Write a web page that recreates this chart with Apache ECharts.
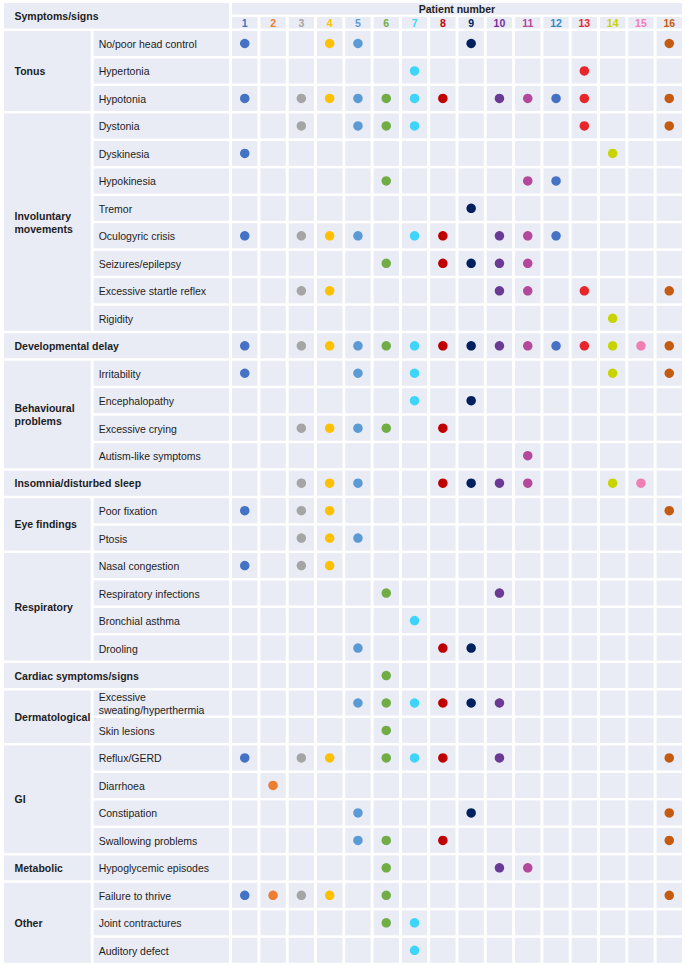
<!DOCTYPE html>
<html><head><meta charset="utf-8">
<script src="https://cdn.jsdelivr.net/npm/echarts@6/dist/echarts.min.js"></script>
<style>html,body{margin:0;padding:0;background:#fff}#c{width:685px;height:966px}</style>
</head><body><div id="c"></div>
<script>
// ---------- data ----------
const headerLeft = 'Symptoms/signs';
const headerTitle = 'Patient number';
const patients = ['1','2','3','4','5','6','7','8','9','10','11','12','13','14','15','16'];
const patientColors = ['#4472C4','#ED7D31','#A5A5A5','#FFC000','#5B9BD5','#70AD47','#3DD5FB','#C00000',
  '#002060','#6A3A94','#B4489A','#4472C4','#E8262A','#C8D400','#EF7EB3','#C55A11'];
const numberColors = ['#4472C4','#ED7D31','#A5A5A5','#FFC000','#5B9BD5','#70AD47','#3DD5FB','#C00000',
  '#002060','#7030A0','#B4489A','#2E8BC8','#E8262A','#C8D400','#EF7EB3','#C55A11'];
const groups = ['Tonus','Involuntary movements','Developmental delay','Behavioural problems',
  'Insomnia/disturbed sleep','Eye findings','Respiratory','Cardiac symptoms/signs','Dermatological',
  'GI','Metabolic','Other'];
const groupRowCounts = [3, 8, 1, 4, 1, 2, 4, 1, 2, 4, 1, 3];
const symptoms = ['No/poor head control','Hypertonia','Hypotonia','Dystonia','Dyskinesia','Hypokinesia',
  'Tremor','Oculogyric crisis','Seizures/epilepsy','Excessive startle reflex','Rigidity',
  'Developmental delay','Irritability','Encephalopathy','Excessive crying','Autism-like symptoms',
  'Insomnia/disturbed sleep','Poor fixation','Ptosis','Nasal congestion','Respiratory infections',
  'Bronchial asthma','Drooling','Cardiac symptoms/signs','Excessive sweating/hyperthermia','Skin lesions',
  'Reflux/GERD','Diarrhoea','Constipation','Swallowing problems','Hypoglycemic episodes',
  'Failure to thrive','Joint contractures','Auditory defect'];
// patients showing each symptom (same order as symptoms)
const patientsBySymptom = [
  [1,4,5,9,16],
  [7,13],
  [1,3,4,5,6,7,8,10,11,12,13,16],
  [3,5,6,7,13,16],
  [1,14],
  [6,11,12],
  [9],
  [1,3,4,5,7,8,10,11,12],
  [6,8,9,10,11],
  [3,4,10,11,13,16],
  [14],
  [1,3,4,5,6,7,8,9,10,11,12,13,14,15,16],
  [1,5,7,14,16],
  [7,9],
  [3,4,5,6,8],
  [11],
  [3,4,5,8,9,10,11,14,15],
  [1,3,4,16],
  [3,4,5],
  [1,3,4],
  [6,10],
  [7],
  [5,8,9],
  [6],
  [5,6,7,8,9,10],
  [6],
  [1,3,4,6,7,8,10,16],
  [2],
  [5,9,16],
  [5,6,8,16],
  [6,10,11],
  [1,2,3,4,6,16],
  [6,7],
  [7]
];

// ---------- styles ----------
const CELL = '#E9EBF5';
const FONT = '"Liberation Sans", Arial, sans-serif';
const TXT = '#1E1E1E';
const HG = 3;     // horizontal gap
const VG = 2.5;   // vertical gap
const GROUP_W = 88.2;
const FS = 10.5;

// simple label wrapping for very long symptom names: break after the first word
const wrapLong = s => s.length > 28 ? s.replace(' ', '\n') : s;

// ---------- build ----------
const cellData = [];
symptoms.forEach((s, r) => patients.forEach((p, i) => cellData.push([i, r])));
const dotData = [];
patientsBySymptom.forEach((list, r) => list.forEach(p => {
  dotData.push({ value: [p - 1, r], itemStyle: { color: patientColors[p - 1] } });
}));
const groupData = [];
let start = 0;
groups.forEach((g, gi) => {
  const n = groupRowCounts[gi];
  groupData.push([0, start, start + n - 1, gi]);
  start += n;
});
const isSpan = gi => groupRowCounts[gi] === 1 && symptoms[groupData[gi][1]] === groups[gi];
const symptomData = [];
groupData.forEach((gd, gi) => {
  if (!isSpan(gi)) for (let r = gd[1]; r <= gd[2]; r++) symptomData.push([0.5, r]);
});

const chart = echarts.init(document.getElementById('c'), null, { renderer: 'svg' });

const hidden = { show: false };
const catAxis = (data, gi, inverse) => ({
  type: 'category', data, gridIndex: gi, inverse: !!inverse,
  axisLine: hidden, axisTick: hidden, axisLabel: hidden, splitLine: hidden
});
const valAxis = gi => ({
  type: 'value', min: 0, max: 1, gridIndex: gi,
  axisLine: hidden, axisTick: hidden, axisLabel: hidden, splitLine: hidden
});

function textEl(text, x, y, opts) {
  return {
    type: 'text',
    style: Object.assign({
      text, x, y, fill: TXT, fontFamily: FONT, fontSize: FS,
      verticalAlign: 'middle', align: 'left', lineHeight: 13.5
    }, opts || {})
  };
}

const option = {
  animation: false,
  backgroundColor: '#fff',
  grid: [
    { left: 230.6, top: 29.75, width: 452.8, height: 934.3 },   // 0 patient cells
    { left: 2.5, top: 29.75, width: 228, height: 934.3 },       // 1 labels
    { left: 230.6, top: 1.75, width: 452.8, height: 28 },       // 2 patient header
    { left: 2.5, top: 1.75, width: 228, height: 28 }            // 3 left header
  ],
  xAxis: [
    catAxis(patients, 0),
    valAxis(1),
    catAxis(patients, 2),
    valAxis(3)
  ],
  yAxis: [
    catAxis(symptoms, 0, true),
    catAxis(symptoms, 1, true),
    catAxis([headerTitle, 'numbers'], 2, true),
    catAxis([headerLeft], 3, true)
  ],
  series: [
    {
      type: 'custom', xAxisIndex: 0, yAxisIndex: 0, z: 1, silent: true,
      data: cellData,
      renderItem(params, api) {
        const c = api.coord([api.value(0), api.value(1)]);
        const s = api.size([1, 1]);
        return { type: 'rect', shape: { x: c[0] - s[0] / 2 + HG / 2, y: c[1] - s[1] / 2 + VG / 2, width: s[0] - HG, height: s[1] - VG }, style: { fill: CELL } };
      }
    },
    {
      type: 'scatter', xAxisIndex: 0, yAxisIndex: 0, z: 3, silent: true,
      symbol: 'circle', symbolSize: 9.5,
      itemStyle: { opacity: 1 },
      data: dotData
    },
    {
      type: 'custom', xAxisIndex: 1, yAxisIndex: 1, z: 1, silent: true,
      data: groupData,
      encode: { x: 0, y: 1 },
      renderItem(params, api) {
        const first = api.value(1), last = api.value(2), gi = api.value(3);
        const ct = api.coord([0, first]);
        const cb = api.coord([0, last]);
        const x1 = api.coord([1, first])[0];
        const rowH = api.size([0, 1])[1];
        const y0 = ct[1] - rowH / 2 + VG / 2, y1 = cb[1] + rowH / 2 - VG / 2;
        const span = isSpan(gi);
        const x0 = ct[0] + HG / 2;
        const right = span ? x1 - HG / 2 : ct[0] + GROUP_W;
        return {
          type: 'group', children: [
            { type: 'rect', shape: { x: x0, y: y0, width: right - x0, height: y1 - y0 }, style: { fill: CELL } },
            textEl(groups[gi], x0 + 10.5, (y0 + y1) / 2, { fontWeight: 'bold', width: span ? 210 : 80, overflow: 'break', lineHeight: 13 })
          ]
        };
      }
    },
    {
      type: 'custom', xAxisIndex: 1, yAxisIndex: 1, z: 1, silent: true,
      data: symptomData,
      encode: { x: 0, y: 1 },
      renderItem(params, api) {
        const r = api.value(1);
        const c = api.coord([0, r]);
        const x1 = api.coord([1, r])[0];
        const rowH = api.size([0, 1])[1];
        const x0 = c[0] + GROUP_W + HG;
        const right = x1 - HG / 2;
        const y0 = c[1] - rowH / 2 + VG / 2;
        return {
          type: 'group', children: [
            { type: 'rect', shape: { x: x0, y: y0, width: right - x0, height: rowH - VG }, style: { fill: CELL } },
            textEl(wrapLong(symptoms[r]), x0 + 5, c[1] + 0.5)
          ]
        };
      }
    },
    {
      type: 'custom', xAxisIndex: 2, yAxisIndex: 2, z: 1, silent: true,
      data: patients.map((p, i) => [i, 1]),
      renderItem(params, api) {
        const i = api.value(0);
        const c = api.coord([i, 1]);
        const s = api.size([1, 1]);
        return {
          type: 'group', children: [
            { type: 'rect', shape: { x: c[0] - s[0] / 2 + HG / 2, y: c[1] - s[1] / 2 + 1.25, width: s[0] - HG, height: s[1] - 2.5 }, style: { fill: CELL } },
            textEl(patients[i], c[0], c[1] + 0.5, { align: 'center', fontWeight: 'bold', fill: numberColors[i] })
          ]
        };
      }
    },
    {
      type: 'custom', xAxisIndex: 2, yAxisIndex: 2, z: 1, silent: true,
      data: [[0, 0]],
      renderItem(params, api) {
        const a = api.coord([0, 0]);
        const b = api.coord([patients.length - 1, 0]);
        const s = api.size([1, 1]);
        const x0 = a[0] - s[0] / 2 + HG / 2, x1 = b[0] + s[0] / 2 - HG / 2;
        return {
          type: 'group', children: [
            { type: 'rect', shape: { x: x0, y: a[1] - s[1] / 2 + 1.25, width: x1 - x0, height: s[1] - 2.5 }, style: { fill: CELL } },
            textEl(headerTitle, (x0 + x1) / 2, a[1] + 0.5, { align: 'center', fontWeight: 'bold' })
          ]
        };
      }
    },
    {
      type: 'custom', xAxisIndex: 3, yAxisIndex: 3, z: 1, silent: true,
      data: [[0, 0]],
      encode: { x: 0, y: 1 },
      renderItem(params, api) {
        const a = api.coord([0, 0]);
        const x1 = api.coord([1, 0])[0];
        const s = api.size([0, 1]);
        const x0 = a[0] + HG / 2;
        const y0 = a[1] - s[1] / 2 + 1.25;
        return {
          type: 'group', children: [
            { type: 'rect', shape: { x: x0, y: y0, width: x1 - HG / 2 - x0, height: s[1] - 2.5 }, style: { fill: CELL } },
            textEl(headerLeft, x0 + 10.5, a[1], { fontWeight: 'bold' })
          ]
        };
      }
    }
  ]
};
chart.setOption(option);
</script>
</body></html>
